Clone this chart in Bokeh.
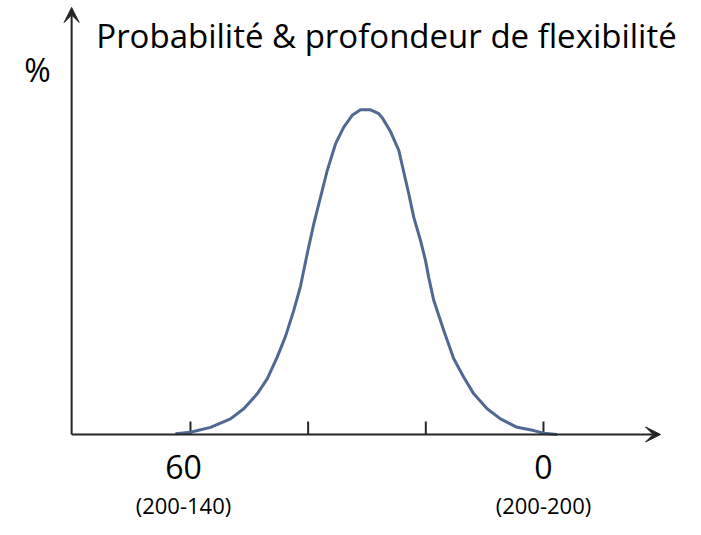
from bokeh.plotting import figure
from bokeh.models import Range1d, Arrow, VeeHead, Label, ColumnDataSource
from bokeh.core.properties import value
from bokeh.embed import file_html
from bokeh.resources import INLINE

# ---- data ----
flex = [62.55, 60.0, 56.6, 53.2, 50.94, 48.66, 46.96, 45.26, 43.85, 42.44, 41.30, 40.16,
        39.04, 37.90, 36.76, 35.35, 33.94, 32.51, 31.10, 29.40, 27.99, 27.42, 26.0, 24.59,
        23.74, 22.89, 22.04, 20.90, 20.05, 19.49, 18.64, 16.95, 15.25, 13.55, 11.85, 9.57,
        7.31, 4.47, 1.65, -0.05, -2.33]
prob = [0.2, 0.7, 2.2, 4.8, 7.9, 12.5, 17.1, 23.8, 30.2, 38.2, 45.6, 55.6,
        64.8, 73.0, 81.2, 89.4, 94.6, 98.2, 99.9, 99.9, 98.7, 97.5, 93.2, 87.4,
        80.7, 74.0, 66.8, 59.7, 53.5, 48.2, 41.2, 32.0, 23.3, 17.6, 12.5, 7.9,
        4.8, 2.2, 1.2, 0.4, 0.0]

tick_values = [60, 40, 20, 0]
label_values = [60, 0]
label_texts = ["60", "0"]
sub_texts = ["(200-140)", "(200-200)"]

title_text = "Probabilité & profondeur de flexibilité"
y_title = "%"

X_AXIS_START, X_AXIS_END = 80.2, -19.9
Y_AXIS_TOP = 131.4
TICK_LEN = 4.0

FONT = "Open Sans"
AXIS_COLOR = "#262626"
CURVE_COLOR = "#506992"

W, H = 693, 527
p = figure(width=W, height=H, output_backend="svg", toolbar_location=None,
           x_range=Range1d(92.29, -25.50), y_range=Range1d(-28.62, 133.54),
           x_axis_location=None, y_axis_location=None, min_border=0)
p.grid.visible = False
p.outline_line_color = None
p.background_fill_color = "white"
p.border_fill_color = "white"

# axes with arrows
p.add_layout(Arrow(x_start=X_AXIS_START, y_start=0, x_end=X_AXIS_END, y_end=0,
                   line_color=AXIS_COLOR, line_width=2,
                   end=VeeHead(size=15, fill_color=AXIS_COLOR, line_color=AXIS_COLOR)))
p.add_layout(Arrow(x_start=X_AXIS_START, y_start=0, x_end=X_AXIS_START, y_end=Y_AXIS_TOP,
                   line_color=AXIS_COLOR, line_width=2,
                   end=VeeHead(size=15, fill_color=AXIS_COLOR, line_color=AXIS_COLOR)))

# ticks
p.segment(x0=tick_values, y0=[0] * len(tick_values), x1=tick_values,
          y1=[TICK_LEN] * len(tick_values), line_color=AXIS_COLOR, line_width=2)

# curve
p.line(flex, prob, line_color=CURVE_COLOR, line_width=3, line_join="round")

# tick labels
src = ColumnDataSource(dict(x=label_values, y=[0, 0], t=label_texts, s=sub_texts,
                            xo=[-7, 0], xs=[-7, 0]))
p.text(x="x", y="y", text="t", x_offset="xo", y_offset=33, source=src,
       text_font=value(FONT), text_font_size="32px", text_align="center",
       text_baseline="middle", text_color="black")
p.text(x="x", y="y", text="s", x_offset="xs", y_offset=71, source=src,
       text_font=value(FONT), text_font_size="22px", text_align="center",
       text_baseline="middle", text_color="black")

# title and y label
p.add_layout(Label(x=386, y=H - 35, x_units="screen", y_units="screen", text=title_text,
                   text_font=FONT, text_font_size="33px", text_align="center",
                   text_baseline="middle", text_color="black"))
p.add_layout(Label(x=37, y=H - 69, x_units="screen", y_units="screen", text=y_title,
                   text_font=FONT, text_font_size="32px", text_align="center",
                   text_baseline="middle", text_color="black"))

open("out.html", "w").write(file_html(p, INLINE))
